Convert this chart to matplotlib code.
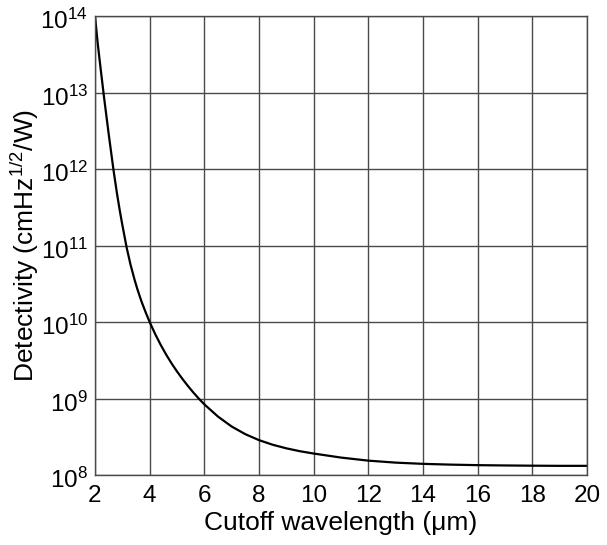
import matplotlib
matplotlib.use("Agg")
import matplotlib.pyplot as plt
import matplotlib.transforms as mtransforms

plt.rcParams['font.family'] = ['Liberation Sans', 'DejaVu Sans']
plt.rcParams['mathtext.fontset'] = 'custom'
plt.rcParams['mathtext.rm'] = 'Liberation Sans'
plt.rcParams['mathtext.it'] = 'Liberation Sans:italic'
plt.rcParams['mathtext.default'] = 'regular'

# values (cutoff wavelength in um, log10 of detectivity)
wavelength = [2.0, 2.1, 2.2, 2.33, 2.5, 2.68, 2.8, 2.91, 3.0, 3.16, 3.3,
              3.45, 3.55, 3.7, 3.85, 4.0, 4.2, 4.4, 4.6, 4.8, 5.0, 5.2, 5.4,
              5.6, 5.8, 6.0, 6.5, 7.0, 7.5, 8.0, 8.5, 9.0, 9.5, 10.0, 11.0,
              12.0, 13.0, 14.0, 15.0, 16.0, 17.0, 18.0, 19.0, 20.0]
log_detectivity = [14.0, 13.64, 13.33, 12.94, 12.46, 11.98, 11.69, 11.45,
                   11.27, 10.97, 10.75, 10.55, 10.43, 10.27, 10.13, 10.0,
                   9.844, 9.704, 9.576, 9.46, 9.354, 9.256, 9.164, 9.078,
                   8.998, 8.924, 8.764, 8.634, 8.534, 8.456, 8.396, 8.349,
                   8.311, 8.281, 8.228, 8.188, 8.162, 8.146, 8.136, 8.129,
                   8.125, 8.122, 8.12, 8.12]
detectivity = [10 ** v for v in log_detectivity]

x_ticks = [2, 4, 6, 8, 10, 12, 14, 16, 18, 20]
y_ticks = [1e8, 1e9, 1e10, 1e11, 1e12, 1e13, 1e14]

fig = plt.figure(figsize=(6.07, 5.45), dpi=100)
ax = fig.add_axes([0.1565, 0.1284, 0.8105, 0.8422])

ax.semilogy(wavelength, detectivity, color="black", linewidth=1.6)

ax.set_xlim(2, 20)
ax.set_ylim(1e8, 1e14)
ax.set_xticks(x_ticks)
ax.set_yticks(y_ticks)
ax.yaxis.set_minor_locator(matplotlib.ticker.NullLocator())
ax.tick_params(length=0, labelsize=17.5)
ax.tick_params(axis="x", pad=7)
ax.tick_params(axis="y", pad=5)
ax.grid(True, color="#4a4a4a", linewidth=1.0)
for s in ax.spines.values():
    s.set_color("#4a4a4a")
    s.set_linewidth(1.0)

# labels sit a little below their grid line in the original
shift = mtransforms.ScaledTranslation(0, -3 / 100, fig.dpi_scale_trans)
for lab in ax.get_yticklabels():
    lab.set_transform(lab.get_transform() + shift)

ax.set_xlabel("Cutoff wavelength (μm)", fontsize=19, labelpad=3)
ax.set_ylabel("Detectivity (cmHz$^{1/2}$/W)", fontsize=19)
ax.yaxis.set_label_coords(-0.11, 0.5)

fig.savefig("out.png", dpi=100)
